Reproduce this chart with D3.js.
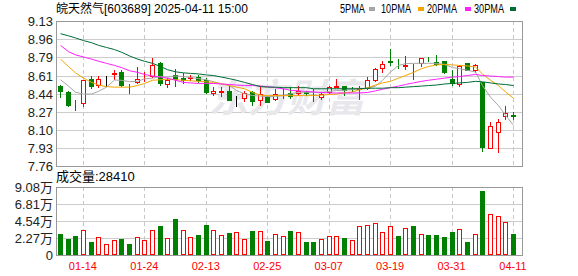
<!DOCTYPE html>
<html>
<head>
<meta charset="utf-8">
<script src="https://cdn.jsdelivr.net/npm/d3@7"></script>
<style>
  body { margin: 0; background: #fff; }
  svg { display: block; }
</style>
</head>
<body>
<script>
const dates = [
  '01-09', '01-10', '01-13', '01-14', '01-15', '01-16', '01-17', '01-20', '01-21', '01-22',
  '01-23', '01-24', '01-27', '02-05', '02-06', '02-07', '02-10', '02-11', '02-12', '02-13',
  '02-14', '02-17', '02-18', '02-19', '02-20', '02-21', '02-24', '02-25', '02-26', '02-27',
  '02-28', '03-03', '03-04', '03-05', '03-06', '03-07', '03-10', '03-11', '03-12', '03-13',
  '03-14', '03-17', '03-18', '03-19', '03-20', '03-21', '03-24', '03-25', '03-26', '03-27',
  '03-28', '03-31', '04-01', '04-02', '04-03', '04-07', '04-08', '04-09', '04-10', '04-11',
];

const open = [
  8.52, 8.46, 8.32, 8.34, 8.585, 8.52, 8.58, 8.616, 8.648, 8.52,
  8.548, 8.59, 8.60, 8.733, 8.53, 8.616, 8.594, 8.585, 8.60, 8.569,
  8.442, 8.457, 8.473, 8.378, 8.395, 8.457, 8.372, 8.416, 8.388, 8.454,
  8.454, 8.438, 8.457, 8.45, 8.404, 8.448, 8.505, 8.52, 8.49, 8.48,
  8.48, 8.569, 8.68, 8.752, 8.718, 8.695, 8.727, 8.727, 8.775, 8.743,
  8.749, 8.585, 8.528, 8.737, 8.664, 8.553, 7.925, 8.071, 8.22, 8.245,
];
const high = [
  8.53, 8.47, 8.385, 8.57, 8.607, 8.614, 8.61, 8.664, 8.664, 8.535,
  8.70, 8.648, 8.781, 8.74, 8.59, 8.68, 8.64, 8.62, 8.617, 8.59,
  8.505, 8.505, 8.52, 8.42, 8.473, 8.473, 8.514, 8.425, 8.483, 8.483,
  8.505, 8.52, 8.473, 8.49, 8.457, 8.52, 8.585, 8.52, 8.505, 8.52,
  8.60, 8.687, 8.749, 8.864, 8.775, 8.797, 8.727, 8.784, 8.79, 8.813,
  8.749, 8.664, 8.718, 8.737, 8.727, 8.553, 8.179, 8.204, 8.33, 8.274,
];
const low = [
  8.40, 8.32, 8.28, 8.32, 8.49, 8.50, 8.51, 8.569, 8.505, 8.44,
  8.537, 8.553, 8.59, 8.52, 8.50, 8.51, 8.535, 8.56, 8.54, 8.44,
  8.42, 8.41, 8.37, 8.32, 8.36, 8.33, 8.33, 8.352, 8.378, 8.397,
  8.395, 8.426, 8.426, 8.362, 8.388, 8.44, 8.495, 8.426, 8.457, 8.388,
  8.475, 8.55, 8.642, 8.705, 8.68, 8.67, 8.575, 8.695, 8.74, 8.705,
  8.632, 8.514, 8.51, 8.66, 8.64, 7.893, 7.919, 7.88, 8.198, 8.195,
];
const close = [
  8.46, 8.33, 8.31, 8.57, 8.512, 8.585, 8.58, 8.638, 8.52, 8.53,
  8.585, 8.60, 8.711, 8.53, 8.575, 8.569, 8.569, 8.60, 8.559, 8.442,
  8.473, 8.473, 8.378, 8.378, 8.452, 8.362, 8.442, 8.362, 8.442, 8.467,
  8.416, 8.464, 8.442, 8.44, 8.442, 8.505, 8.52, 8.473, 8.483, 8.50,
  8.569, 8.68, 8.727, 8.737, 8.708, 8.718, 8.718, 8.784, 8.765, 8.711,
  8.632, 8.537, 8.705, 8.664, 8.718, 7.925, 8.14, 8.172, 8.261, 8.226,
];

const ma5 = [
  8.575, 8.515, 8.457, 8.44, 8.44, 8.465, 8.505, 8.572, 8.57, 8.557,
  8.56, 8.583, 8.59, 8.605, 8.60, 8.61, 8.605, 8.597, 8.585, 8.575,
  8.556, 8.537, 8.52, 8.473, 8.442, 8.426, 8.42, 8.416, 8.418, 8.426,
  8.442, 8.457, 8.457, 8.455, 8.455, 8.465, 8.473, 8.475, 8.483, 8.49,
  8.495, 8.515, 8.569, 8.648, 8.71, 8.727, 8.73, 8.73, 8.73, 8.73,
  8.72, 8.69, 8.68, 8.664, 8.648, 8.52, 8.41, 8.33, 8.24, 8.145,
];
const ma10 = [
  8.77, 8.70, 8.64, 8.59, 8.55, 8.525, 8.51, 8.505, 8.505, 8.505,
  8.52, 8.54, 8.57, 8.575, 8.58, 8.575, 8.57, 8.565, 8.56, 8.555,
  8.55, 8.535, 8.52, 8.505, 8.49, 8.455, 8.43, 8.425, 8.425, 8.425,
  8.425, 8.425, 8.425, 8.425, 8.43, 8.435, 8.44, 8.45, 8.46, 8.48,
  8.50, 8.525, 8.545, 8.56, 8.59, 8.615, 8.645, 8.68, 8.70, 8.715,
  8.72, 8.715, 8.71, 8.705, 8.695, 8.63, 8.57, 8.52, 8.46, 8.40,
];
const ma20 = [
  8.90, 8.84, 8.81, 8.79, 8.77, 8.75, 8.73, 8.71, 8.69, 8.66,
  8.645, 8.625, 8.61, 8.60, 8.59, 8.57, 8.55, 8.545, 8.54, 8.54,
  8.54, 8.535, 8.53, 8.525, 8.52, 8.52, 8.515, 8.51, 8.50, 8.49,
  8.475, 8.47, 8.465, 8.46, 8.455, 8.45, 8.45, 8.45, 8.45, 8.45,
  8.455, 8.47, 8.485, 8.50, 8.515, 8.53, 8.545, 8.56, 8.57, 8.58,
  8.59, 8.60, 8.605, 8.615, 8.625, 8.615, 8.61, 8.605, 8.60, 8.60,
];
const ma30 = [
  9.01, 8.99, 8.97, 8.945, 8.925, 8.90, 8.88, 8.86, 8.835, 8.80,
  8.77, 8.75, 8.73, 8.70, 8.67, 8.65, 8.64, 8.635, 8.63, 8.62,
  8.615, 8.60, 8.585, 8.57, 8.55, 8.53, 8.51, 8.505, 8.505, 8.50,
  8.50, 8.50, 8.50, 8.49, 8.49, 8.49, 8.49, 8.49, 8.49, 8.49,
  8.495, 8.495, 8.495, 8.50, 8.50, 8.505, 8.51, 8.515, 8.52, 8.525,
  8.535, 8.54, 8.545, 8.55, 8.56, 8.555, 8.545, 8.535, 8.53, 8.52,
];

// 成交量 (手)
const volume = [
  28000, 21400, 25400, 32900, 17400, 23600, 14700, 19600, 21400, 14700,
  23600, 20000, 32900, 38700, 22300, 48100, 32900, 23600, 26700, 40000,
  32900, 26300, 29400, 30300, 20900, 32000, 31600, 18700, 27600, 25000,
  32000, 30300, 17800, 17800, 20900, 25000, 25000, 22300, 19600, 38300,
  39600, 42300, 30300, 38300, 25400, 35600, 38700, 27600, 26700, 26700,
  24000, 30700, 34300, 17800, 28000, 85500, 54700, 52100, 43600, 28410,
];
const volumeUp = [
  0, 0, 0, 1, 0, 1, 1, 1, 0, 0,
  1, 1, 1, 0, 1, 0, 1, 1, 0, 0,
  1, 1, 0, 1, 1, 0, 1, 0, 1, 1,
  0, 1, 0, 0, 1, 1, 1, 0, 1, 1,
  1, 1, 1, 1, 0, 1, 0, 1, 0, 0,
  0, 0, 1, 0, 1, 0, 1, 1, 1, 0,
];

const priceTicks = [9.13, 8.96, 8.79, 8.61, 8.44, 8.27, 8.10, 7.93, 7.76];
const volumeTicks = [90800, 68100, 45400, 22700, 0];
const volumeTickLabels = ['9.08万', '6.81万', '4.54万', '2.27万', '0'];
const dateTicks = ['01-14', '01-24', '02-13', '02-25', '03-07', '03-19', '03-31', '04-11'];

const maSeries = [
  { name: '5PMA', values: ma5, color: '#a6a6a6', lx: 340, lw: 25, sx: 369 },
  { name: '10PMA', values: ma10, color: '#f5a500', lx: 381, lw: 30, sx: 418 },
  { name: '20PMA', values: ma20, color: '#ff20ff', lx: 427, lw: 30, sx: 465 },
  { name: '30PMA', values: ma30, color: '#006b35', lx: 474, lw: 30, sx: 510 },
];

const width = 578;
const height = 276;
const left = 56;
const right = 522;
const priceTop = 21;
const priceBottom = 166;
const volTop = 187;
const volBottom = 255;
const step = 7.68;

const UP = '#ff0000';
const DOWN = '#008000';
const FONT = '"Liberation Sans", Arial, "Noto Sans CJK SC", sans-serif';

function main() {
  const svg = d3.select('body').append('svg').attr('width', width).attr('height', height);

  const x = d3.scaleBand().domain(dates).range([left, left + dates.length * step]);
  const cx = d => Math.round(x(d) + x.bandwidth() / 2);
  const y = d3.scaleLinear().domain([7.76, 9.13]).range([priceBottom, priceTop]);
  const vy = d3.scaleLinear().domain([0, 90800]).range([volBottom, volTop]);

  drawHeader(svg);
  drawGrid(svg, x, cx, y, vy);
  drawWatermark(svg);
  drawCandles(svg, cx, y);
  drawMovingAverages(svg, cx, y);
  drawVolume(svg, cx, vy);
  drawFrames(svg);
  drawXAxis(svg, x);
}

function drawHeader(svg) {
  svg
    .append('text')
    .attr('x', 56)
    .attr('y', 13)
    .attr('font-family', FONT)
    .attr('font-size', 12)
    .attr('fill', '#000')
    .text('皖天然气[603689] 2025-04-11 15:00');

  const legend = svg.append('g').attr('font-family', FONT).attr('font-size', 12);

  legend
    .selectAll('text')
    .data(maSeries)
    .enter()
    .append('text')
    .attr('x', d => d.lx)
    .attr('y', 13)
    .attr('textLength', d => d.lw)
    .attr('lengthAdjust', 'spacingAndGlyphs')
    .attr('fill', '#000')
    .text(d => d.name);

  legend
    .selectAll('rect')
    .data(maSeries)
    .enter()
    .append('rect')
    .attr('x', d => d.sx)
    .attr('y', 7)
    .attr('width', 6)
    .attr('height', 4)
    .attr('fill', d => d.color);

  svg
    .append('text')
    .attr('x', 56)
    .attr('y', 181)
    .attr('font-family', FONT)
    .attr('font-size', 13)
    .attr('fill', '#000')
    .text('成交量:28410');
}

function drawGrid(svg, x, cx, y, vy) {
  const priceAxis = d3
    .axisLeft(y)
    .tickValues(priceTicks)
    .tickFormat(d3.format('.2f'))
    .tickSize(-(right - left))
    .tickPadding(3);

  const pg = svg.append('g').attr('transform', `translate(${left},0)`).call(priceAxis);
  styleAxis(pg);

  const volAxis = d3
    .axisLeft(vy)
    .tickValues(volumeTicks)
    .tickFormat((d, i) => volumeTickLabels[i])
    .tickSize(-(right - left))
    .tickPadding(3);

  const vg = svg.append('g').attr('transform', `translate(${left},0)`).call(volAxis);
  styleAxis(vg);

  // dashed date lines in both panels
  const dash = svg.append('g').attr('stroke', '#c8c8c8').attr('stroke-dasharray', '4,3');
  [[priceTop, priceBottom], [volTop, volBottom]].forEach(([a, b]) => {
    dash
      .selectAll(null)
      .data(dateTicks)
      .enter()
      .append('line')
      .attr('x1', d => cx(d) + 0.5)
      .attr('x2', d => cx(d) + 0.5)
      .attr('y1', a)
      .attr('y2', b);
  });
}

function styleAxis(g) {
  g.select('.domain').remove();
  g.selectAll('.tick line').attr('stroke', '#cccccc');
  g.selectAll('.tick text')
    .attr('font-family', FONT)
    .attr('font-size', 13)
    .attr('fill', '#222');
}

function drawWatermark(svg) {
  svg
    .append('text')
    .attr('x', 287)
    .attr('y', 112)
    .attr('text-anchor', 'middle')
    .attr('font-family', '"Noto Sans CJK SC", sans-serif')
    .attr('font-size', 39)
    .attr('font-weight', 'bold')
    .attr('font-style', 'italic')
    .attr('fill', '#e8e8ec')
    .text('东方财富');
}

function candleColor(i) {
  if (close[i] > open[i]) return UP;
  if (close[i] < open[i]) return DOWN;
  return '#000';
}

function drawCandles(svg, cx, y) {
  const idx = d3.range(dates.length);
  const g = svg.append('g');

  g.selectAll('line')
    .data(idx)
    .enter()
    .append('line')
    .attr('x1', i => cx(dates[i]) + 0.5)
    .attr('x2', i => cx(dates[i]) + 0.5)
    .attr('y1', i => Math.round(y(high[i])))
    .attr('y2', i => Math.round(y(low[i])))
    .attr('stroke', candleColor);

  g.selectAll('rect')
    .data(idx)
    .enter()
    .append('rect')
    .attr('x', i => cx(dates[i]) - 1.5)
    .attr('y', i => Math.round(y(Math.max(open[i], close[i]))) + 0.5)
    .attr('width', 4)
    .attr('height', i => Math.max(0, Math.round(Math.abs(y(open[i]) - y(close[i]))) - 1))
    .attr('fill', i => (close[i] > open[i] ? '#fff' : candleColor(i)))
    .attr('stroke', candleColor);
}

function drawMovingAverages(svg, cx, y) {
  const line = d3
    .line()
    .x((d, i) => cx(dates[i]) + 0.5)
    .y(d => y(d));

  svg
    .append('g')
    .selectAll('path')
    .data(maSeries)
    .enter()
    .append('path')
    .attr('d', d => line(d.values))
    .attr('fill', 'none')
    .attr('stroke', d => d.color)
    .attr('stroke-width', 1);
}

function drawVolume(svg, cx, vy) {
  svg
    .append('g')
    .selectAll('rect')
    .data(volume)
    .enter()
    .append('rect')
    .attr('x', (d, i) => cx(dates[i]) - 1.5)
    .attr('y', d => Math.round(vy(d)) + 0.5)
    .attr('width', 4)
    .attr('height', d => volBottom - Math.round(vy(d)) - 1)
    .attr('fill', (d, i) => (volumeUp[i] ? '#fff' : DOWN))
    .attr('stroke', (d, i) => (volumeUp[i] ? UP : DOWN));
}

function drawFrames(svg) {
  [[priceTop, priceBottom], [volTop, volBottom]].forEach(([a, b]) => {
    svg
      .append('rect')
      .attr('x', left + 0.5)
      .attr('y', a + 0.5)
      .attr('width', right - left)
      .attr('height', b - a)
      .attr('fill', 'none')
      .attr('stroke', '#999');
  });
}

function drawXAxis(svg, x) {
  const axis = d3.axisBottom(x).tickValues(dateTicks).tickSize(0).tickPadding(7);
  const g = svg.append('g').attr('transform', `translate(0,${volBottom})`).call(axis);
  g.select('.domain').remove();
  g.selectAll('.tick text')
    .attr('font-family', FONT)
    .attr('font-size', 11)
    .attr('fill', '#ff0000');
}

main();
</script>
</body>
</html>
